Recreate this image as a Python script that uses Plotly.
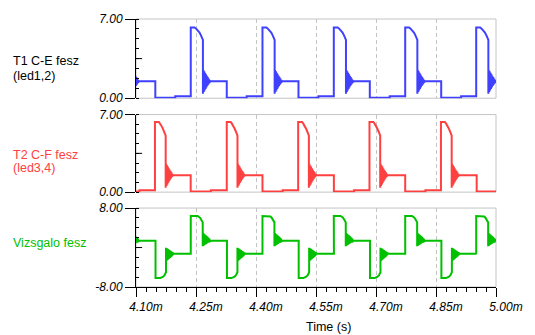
import plotly.graph_objects as go

# ---------------- data (time in ms) ----------------
X_TICKS = [4.10, 4.25, 4.40, 4.55, 4.70, 4.85, 5.00]
X_TICK_TEXT = ["4.10m", "4.25m", "4.40m", "4.55m", "4.70m", "4.85m", "5.00m"]

# rise instants of the pulses
T1_RISE = [4.0583, 4.2369, 4.4162, 4.5945, 4.7730, 4.9505]
T2_RISE = [3.9688, 4.1474, 4.3269, 4.5054, 4.6837, 4.8624]
V_RISE = [4.0583, 4.2369, 4.4162, 4.5945, 4.7730, 4.9505]

# one period of each waveform (ms after the rise, volts)
T1_SHAPE_T = [0.0, 0.0, 0.0097, 0.0134, 0.0182, 0.0219, 0.0255, 0.0292, 0.0304,
              0.0304, 0.0315, 0.0326, 0.0337, 0.0348, 0.0359, 0.0370, 0.0381, 0.0392,
              0.0403, 0.0414, 0.0425, 0.0436, 0.0447, 0.0458, 0.0469, 0.0480, 0.0501,
              0.0900, 0.0900, 0.1398, 0.1398]
T1_SHAPE_V = [0.17, 6.25, 6.25, 6.15, 6.0, 5.8, 5.55, 5.25, 5.15,
              0.4, 2.5, 0.55, 2.38, 0.68, 2.25, 0.82, 2.12, 0.95,
              1.98, 1.08, 1.86, 1.2, 1.74, 1.32, 1.62, 1.44, 1.5,
              1.5, 0.05, 0.05, 0.17]

T2_SHAPE_T = [0.0, 0.0, 0.0097, 0.0125, 0.0160, 0.0195, 0.0230, 0.0260, 0.0268,
              0.0268, 0.0279, 0.0290, 0.0301, 0.0312, 0.0323, 0.0334, 0.0345, 0.0356,
              0.0367, 0.0378, 0.0389, 0.0400, 0.0411, 0.0422, 0.0433, 0.0444, 0.0465,
              0.0893, 0.0893, 0.1398, 0.1398]
T2_SHAPE_V = [0.17, 6.33, 6.33, 6.2, 6.0, 5.75, 5.45, 5.15, 5.1,
              0.4, 2.55, 0.55, 2.42, 0.7, 2.3, 0.84, 2.16, 0.98,
              2.02, 1.12, 1.9, 1.24, 1.78, 1.36, 1.64, 1.48, 1.53,
              1.53, 0.05, 0.05, 0.17]

V_SHAPE_T = [0.0, 0.0, 0.0170, 0.0200, 0.0230, 0.0255, 0.0280, 0.0299,
             0.0299, 0.0310, 0.0321, 0.0332, 0.0343, 0.0354, 0.0365, 0.0376, 0.0387,
             0.0398, 0.0409, 0.0420, 0.0431, 0.0442, 0.0453, 0.0464, 0.0475, 0.0496,
             0.0905, 0.0905, 0.1021, 0.1058, 0.1094, 0.1131, 0.1155, 0.1167,
             0.1167, 0.1178, 0.1189, 0.1200, 0.1211, 0.1222, 0.1233, 0.1244, 0.1255,
             0.1266, 0.1277, 0.1288, 0.1299, 0.1310, 0.1321, 0.1332, 0.1343, 0.1364,
             0.1786]
V_SHAPE_V = [-1.25, 6.4, 6.4, 6.3, 6.05, 5.75, 5.4, 5.1,
             0.25, 2.95, 0.37, 2.8, 0.5, 2.65, 0.62, 2.5, 0.75,
             2.33, 0.88, 2.15, 1.0, 1.98, 1.12, 1.8, 1.25, 1.35,
             1.35, -6.2, -6.2, -6.1, -5.9, -5.6, -5.25, -5.0,
             -0.05, -2.7, -0.15, -2.55, -0.28, -2.4, -0.4, -2.25, -0.52,
             -2.1, -0.65, -1.95, -0.78, -1.78, -0.92, -1.6, -1.08, -1.25,
             -1.25]

Y12_TICKS = [0.0, 7.0]
Y12_TICK_TEXT = ["0.00", "7.00"]
Y3_TICKS = [-8.0, 8.0]
Y3_TICK_TEXT = ["-8.00", "8.00"]

BLUE = "#4040FF"
RED = "#FF4040"
GREEN = "#00C000"
GRID = "#C4C4C4"
FONT = "Liberation Sans"


def build(rises, st, sv):
    xs, ys = [], []
    for r in rises:
        for dt, v in zip(st, sv):
            xs.append(r + dt)
            ys.append(v)
    return xs, ys


fig = go.Figure()
for rises, st, sv, col, xa, ya in [
    (T1_RISE, T1_SHAPE_T, T1_SHAPE_V, BLUE, "x", "y"),
    (T2_RISE, T2_SHAPE_T, T2_SHAPE_V, RED, "x2", "y2"),
    (V_RISE, V_SHAPE_T, V_SHAPE_V, GREEN, "x3", "y3"),
]:
    xs, ys = build(rises, st, sv)
    fig.add_trace(go.Scatter(x=xs, y=ys, mode="lines", xaxis=xa, yaxis=ya,
                             line=dict(color=col, width=2), hoverinfo="skip"))

xcommon = dict(range=[4.10, 5.00], tickmode="array", tickvals=X_TICKS, ticktext=X_TICK_TEXT,
               showgrid=True, gridcolor=GRID, griddash="4px,3px", gridwidth=1,
               zeroline=False)
fig.update_layout(
    xaxis=dict(**xcommon, anchor="y", showticklabels=False, ticks="", showline=False),
    xaxis2=dict(**xcommon, anchor="y2", showticklabels=False, ticks="", showline=False),
    xaxis3=dict(**xcommon, anchor="y3", showticklabels=True, ticks="outside", ticklen=9,
                tickcolor="black", showline=True, linecolor="black", linewidth=1,
                ticklabelshift=10,
                tickfont=dict(family=FONT, size=12, color="black", style="italic"),
                minor=dict(tickmode="linear", tick0=4.10, dtick=0.025, ticks="outside",
                           ticklen=4, tickcolor="black", showgrid=False)),
)

ycommon = dict(showgrid=False, zeroline=False, showline=True, linecolor="black", linewidth=1,
               ticks="outside", ticklen=10, tickcolor="black", tickmode="array",
               tickfont=dict(family=FONT, size=12, color="black", style="italic"))
fig.update_layout(
    yaxis=dict(**ycommon, domain=[0.7044, 1.0], range=[0, 7], anchor="x",
               tickvals=Y12_TICKS, ticktext=Y12_TICK_TEXT,
               minor=dict(tickmode="linear", tick0=0, dtick=0.875, ticks="inside", ticklen=3,
                          tickcolor="black", showgrid=False)),
    yaxis2=dict(**ycommon, domain=[0.354, 0.6434], range=[0, 7], anchor="x2",
                tickvals=Y12_TICKS, ticktext=Y12_TICK_TEXT,
                minor=dict(tickmode="linear", tick0=0, dtick=0.875, ticks="inside", ticklen=3,
                           tickcolor="black", showgrid=False)),
    yaxis3=dict(**ycommon, domain=[0.0, 0.2945], range=[-8, 8], anchor="x3",
                tickvals=Y3_TICKS, ticktext=Y3_TICK_TEXT,
                minor=dict(tickmode="linear", tick0=-8, dtick=2, ticks="inside", ticklen=3,
                           tickcolor="black", showgrid=False)),
)

shapes = []
for xa, ya, mid in [("x", "y", 3.5), ("x2", "y2", 3.5), ("x3", "y3", 0.0)]:
    shapes.append(dict(type="rect", xref=f"{xa} domain", yref=f"{ya} domain",
                       x0=0, x1=1, y0=0, y1=1, line=dict(color=GRID, width=1), layer="below"))
    shapes.append(dict(type="line", xref=f"{xa} domain", yref=ya,
                       x0=0, x1=0.017, y0=mid, y1=mid, line=dict(color="black", width=1)))

annotations = [
    dict(text="T1 C-E fesz", x=-0.346, y=0.843, color="black"),
    dict(text="(led1,2)", x=-0.346, y=0.788, color="black"),
    dict(text="T2 C-F fesz", x=-0.346, y=0.491, color=RED),
    dict(text="(led3,4)", x=-0.346, y=0.4435, color=RED),
    dict(text="Vizsgalo fesz", x=-0.346, y=0.165, color=GREEN),
]
ann = []
for a in annotations:
    ann.append(dict(text=a["text"], xref="paper", yref="paper", x=a["x"], y=a["y"],
                    xanchor="left", yanchor="middle", showarrow=False,
                    font=dict(family=FONT, size=12.5, color=a["color"])))
ann.append(dict(text="Time (s)", xref="paper", yref="paper", x=0.534, y=-0.148,
                xanchor="center", yanchor="middle", showarrow=False,
                font=dict(family=FONT, size=12.5, color="black")))

fig.update_layout(
    width=535, height=335,
    margin=dict(l=136, r=29, t=13, b=48),
    plot_bgcolor="white", paper_bgcolor="white",
    showlegend=False,
    shapes=shapes, annotations=ann,
)

fig.write_html("out.html")
